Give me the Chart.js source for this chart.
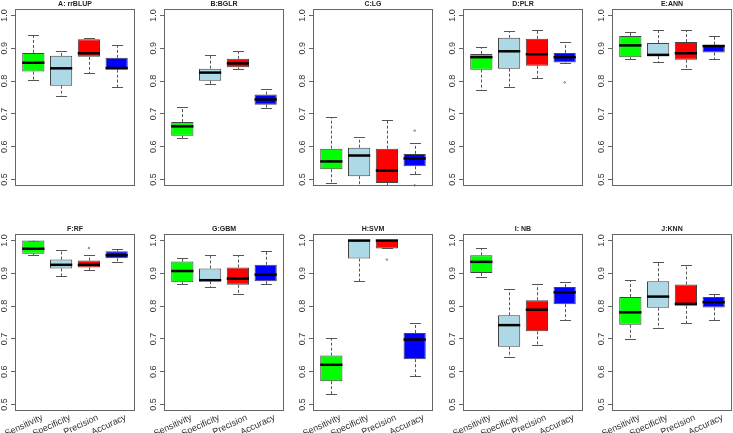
<!DOCTYPE html>
<html>
<head>
<meta charset="utf-8">
<script src="https://cdn.jsdelivr.net/npm/chart.js@4.4.1/dist/chart.umd.min.js"></script>
<style>
body { margin:0; background:#fff; width:733px; height:433px; overflow:hidden; position:relative; }
canvas { position:absolute; }
</style>
</head>
<body>
<script>
// categories and colours of the boxes
var categories = ["Sensitivity", "Specificity", "Precision", "Accuracy"];
var boxColors = ["#00FF00", "#ADD8E6", "#FF0000", "#0000FF"];
var titles = ["A: rrBLUP", "B:BGLR", "C:LG", "D:PLR", "E:ANN", "F:RF", "G:GBM", "H:SVM", "I: NB", "J:KNN"];
var yTicks = [0.5, 0.6, 0.7, 0.8, 0.9, 1.0];

// one row per panel, values for Sensitivity, Specificity, Precision, Accuracy
var lowWhisker = [
    [0.804, 0.755, 0.824, 0.783],
    [0.625, 0.792, 0.836, 0.719],
    [0.488, 0.470, 0.484, 0.518],
    [0.772, 0.783, 0.810, 0.854],
    [0.868, 0.859, 0.838, 0.867],
    [0.955, 0.891, 0.910, 0.936],
    [0.867, 0.859, 0.836, 0.867],
    [0.533, 0.876, 0.976, 0.588],
    [0.888, 0.645, 0.682, 0.757],
    [0.700, 0.734, 0.749, 0.758]
];
var q1 = [
    [0.829, 0.786, 0.874, 0.835],
    [0.633, 0.801, 0.842, 0.728],
    [0.531, 0.510, 0.489, 0.540],
    [0.835, 0.838, 0.847, 0.857],
    [0.873, 0.876, 0.865, 0.887],
    [0.960, 0.915, 0.918, 0.946],
    [0.873, 0.876, 0.865, 0.876],
    [0.571, 0.945, 0.976, 0.638],
    [0.901, 0.676, 0.723, 0.806],
    [0.743, 0.795, 0.801, 0.796]
];
var medians = [
    [0.856, 0.839, 0.885, 0.840],
    [0.662, 0.826, 0.854, 0.744],
    [0.555, 0.573, 0.527, 0.564],
    [0.873, 0.891, 0.882, 0.873],
    [0.909, 0.880, 0.885, 0.907],
    [0.975, 0.926, 0.926, 0.955],
    [0.907, 0.879, 0.884, 0.896],
    [0.621, 1.000, 1.000, 0.698],
    [0.935, 0.742, 0.789, 0.842],
    [0.781, 0.829, 0.807, 0.812]
];
var q3 = [
    [0.886, 0.877, 0.928, 0.871],
    [0.675, 0.838, 0.868, 0.759],
    [0.594, 0.597, 0.594, 0.578],
    [0.883, 0.932, 0.929, 0.886],
    [0.938, 0.916, 0.919, 0.911],
    [1.000, 0.942, 0.939, 0.967],
    [0.936, 0.915, 0.918, 0.926],
    [0.649, 1.000, 1.000, 0.718],
    [0.955, 0.772, 0.818, 0.858],
    [0.828, 0.876, 0.866, 0.828]
];
var highWhisker = [
    [0.942, 0.892, 0.932, 0.909],
    [0.722, 0.880, 0.892, 0.776],
    [0.689, 0.628, 0.680, 0.610],
    [0.905, 0.952, 0.955, 0.919],
    [0.949, 0.955, 0.955, 0.938],
    [1.000, 0.972, 0.957, 0.975],
    [0.947, 0.955, 0.955, 0.968],
    [0.703, 1.000, 1.000, 0.747],
    [0.976, 0.852, 0.867, 0.875],
    [0.880, 0.934, 0.924, 0.836]
];
var outliers = [
    [[], [], [], []],
    [[], [], [], []],
    [[], [], [], [0.649, 0.482]],
    [[], [], [], [0.796]],
    [[], [], [], []],
    [[], [], [0.977], []],
    [[], [], [], []],
    [[], [], [0.942], []],
    [[], [], [], []],
    [[], [], [], []]
];

var fontFamily = '"Liberation Sans", Arial, sans-serif';
var plotLefts = [15, 164, 313, 463, 612];

var boxExtras = {
    id: "boxExtras",
    beforeDatasetsDraw: function(chart, args, opts) {
        var p = opts.panel;
        var ctx = chart.ctx, xs = chart.scales.x, ys = chart.scales.y, a = chart.chartArea;
        ctx.save();
        ctx.beginPath();
        ctx.rect(a.left, a.top, a.right - a.left, a.bottom - a.top);
        ctx.clip();
        ctx.strokeStyle = "#555";
        ctx.lineWidth = 1;
        for (var i = 0; i < 4; i++) {
            var x = Math.round(xs.getPixelForValue(i + 1)) + 0.5;
            var cap = xs.getPixelForValue(i + 1.2) - xs.getPixelForValue(i + 1);
            var yHi = Math.round(ys.getPixelForValue(highWhisker[p][i])) + 0.5;
            var yLo = Math.round(ys.getPixelForValue(lowWhisker[p][i])) + 0.5;
            ctx.setLineDash([3, 2]);
            ctx.beginPath();
            ctx.moveTo(x, ys.getPixelForValue(q3[p][i]));
            ctx.lineTo(x, yHi);
            ctx.moveTo(x, ys.getPixelForValue(q1[p][i]));
            ctx.lineTo(x, yLo);
            ctx.stroke();
            ctx.setLineDash([]);
            ctx.beginPath();
            ctx.moveTo(x - cap, yHi);
            ctx.lineTo(x + cap, yHi);
            ctx.moveTo(x - cap, yLo);
            ctx.lineTo(x + cap, yLo);
            ctx.stroke();
        }
        ctx.restore();
    },
    afterDatasetsDraw: function(chart, args, opts) {
        var p = opts.panel;
        var ctx = chart.ctx, xs = chart.scales.x, ys = chart.scales.y;
        ctx.save();
        for (var i = 0; i < 4; i++) {
            var x = xs.getPixelForValue(i + 1);
            var half = xs.getPixelForValue(i + 1.4) - x;
            var ym = ys.getPixelForValue(medians[p][i]);
            ctx.strokeStyle = "#000";
            ctx.lineWidth = 2.5;
            ctx.beginPath();
            ctx.moveTo(x - half, ym);
            ctx.lineTo(x + half, ym);
            ctx.stroke();
            ctx.lineWidth = 1;
            ctx.strokeStyle = "#777";
            outliers[p][i].forEach(function(v) {
                ctx.beginPath();
                ctx.arc(x, ys.getPixelForValue(v), 0.8, 0, Math.PI * 2);
                ctx.stroke();
            });
        }
        ctx.restore();
    },
    afterDraw: function(chart, args, opts) {
        var ctx = chart.ctx, xs = chart.scales.x, ys = chart.scales.y, a = chart.chartArea;
        ctx.save();
        ctx.strokeStyle = "#666";
        ctx.lineWidth = 1;
        ctx.strokeRect(a.left + 0.5, a.top + 0.5, a.right - a.left - 1, a.bottom - a.top - 1);
        // y tick labels, turned like in R
        ctx.fillStyle = "#333";
        ctx.font = "9px " + fontFamily;
        ctx.textAlign = "center";
        ctx.textBaseline = "middle";
        yTicks.forEach(function(v) {
            ctx.save();
            ctx.translate(a.left - 10, ys.getPixelForValue(v));
            ctx.rotate(-Math.PI / 2);
            ctx.fillText(v.toFixed(1), 0, 0);
            ctx.restore();
        });
        // slanted category names, only under the bottom row
        if (opts.bottom) {
            ctx.textAlign = "right";
            ctx.textBaseline = "top";
            for (var i = 0; i < 4; i++) {
                ctx.save();
                ctx.translate(xs.getPixelForValue(i + 1) + 7, a.bottom + 2);
                ctx.rotate(-25 * Math.PI / 180);
                ctx.fillText(categories[i], 0, 0);
                ctx.restore();
            }
        }
        // panel title
        ctx.fillStyle = "#222";
        ctx.font = "bold 7px " + fontFamily;
        ctx.textAlign = "center";
        ctx.textBaseline = "middle";
        ctx.fillText(titles[opts.panel], (a.left + a.right) / 2, 4);
        ctx.restore();
    }
};

function makePanel(p) {
    var row = p < 5 ? 0 : 1;
    var col = p % 5;
    var canvas = document.createElement("canvas");
    var height = row == 0 ? 215 : 208;
    canvas.width = 149;
    canvas.height = height;
    canvas.style.left = (plotLefts[col] - 29) + "px";
    canvas.style.top = (row == 0 ? 0 : 225) + "px";
    document.body.appendChild(canvas);

    var boxes = [];
    for (var i = 0; i < 4; i++) {
        boxes.push({ x: i + 1, y: [q1[p][i], q3[p][i]] });
    }

    new Chart(canvas, {
        type: "bar",
        data: {
            datasets: [{
                data: boxes,
                backgroundColor: boxColors,
                borderColor: "#444",
                borderWidth: 1,
                borderSkipped: false,
                barPercentage: 0.8,
                categoryPercentage: 1.0
            }]
        },
        options: {
            responsive: false,
            animation: false,
            devicePixelRatio: 1,
            layout: { padding: { top: 9, bottom: height - 186, left: 0, right: 0 } },
            plugins: {
                legend: { display: false },
                tooltip: { enabled: false },
                boxExtras: { panel: p, bottom: row == 1 }
            },
            scales: {
                x: {
                    type: "linear",
                    display: false,
                    offset: false,
                    min: 0.34,
                    max: 4.66,
                    grid: { offset: false }
                },
                y: {
                    min: 0.48,
                    max: 1.02,
                    afterBuildTicks: function(s) { s.ticks = yTicks.map(function(v) { return { value: v }; }); },
                    afterFit: function(s) { s.width = 29; },
                    ticks: { display: false },
                    grid: { drawOnChartArea: false, drawTicks: true, tickLength: 4, color: "#666" },
                    border: { display: false }
                }
            }
        },
        plugins: [boxExtras]
    });
}

for (var p = 0; p < 10; p++) {
    makePanel(p);
}
</script>
</body>
</html>
